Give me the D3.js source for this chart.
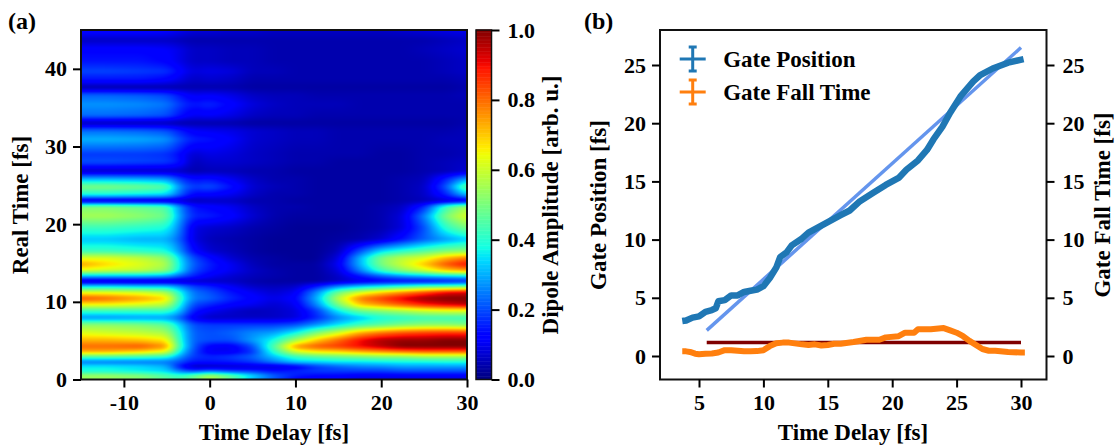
<!DOCTYPE html>
<meta charset="utf-8">
<title>Gate position and fall time</title>
<style>
    body { margin: 0; background: #fff; }
    svg { display: block; font-family: "Liberation Serif", serif; font-weight: bold; }
    svg text { fill: #000; }
</style>
<script src="https://cdn.jsdelivr.net/npm/d3@7"></script>
<svg width="1116" height="446"></svg>
<script>
    // heatmap samples
    var delays = [-15, -12, -8, -5, -3.5, -2, 0, 2.5, 5, 7.5, 10, 12.5, 15, 17.5, 20, 22.5, 25, 27.5, 30];
    var realTimes = [0, 0.4, 1, 1.6, 2.2, 2.9, 3.5, 4.2, 5, 6, 7, 7.9, 8.8, 9.6, 10.4, 11.2, 12, 12.6, 13.2, 14, 14.8, 15.6, 16.5, 18, 19.5, 21, 22.2, 23, 23.8, 24.8, 25.8, 26.8, 28, 29, 30.9, 32, 33, 34, 35.4, 36.6, 37.6, 38.6, 39.7, 41, 42.5, 43.7, 45];
    var amplitude = [
        [.52,.52,.50,.45,.42,.45,.55,.45,.30,.20,.12,.10,.10,.08,.08,.08,.08,.08,.08],
        [.55,.55,.52,.45,.42,.48,.58,.48,.35,.22,.15,.12,.12,.10,.10,.10,.10,.10,.10],
        [.38,.38,.36,.34,.25,.20,.25,.20,.18,.14,.16,.18,.18,.18,.18,.20,.20,.20,.20],
        [.36,.36,.34,.30,.14,.05,.05,.06,.07,.07,.10,.18,.22,.25,.26,.28,.28,.28,.28],
        [.24,.24,.24,.24,.20,.14,.14,.15,.18,.25,.32,.33,.35,.35,.36,.37,.37,.38,.38],
        [.45,.45,.43,.40,.28,.18,.16,.18,.22,.32,.42,.46,.48,.50,.52,.52,.55,.55,.55],
        [.72,.72,.68,.62,.36,.20,.10,.10,.17,.40,.60,.66,.68,.72,.75,.78,.80,.80,.80],
        [.80,.80,.82,.75,.42,.22,.11,.10,.20,.45,.75,.82,.85,.90,.95,1.0,1.0,1.0,1.0],
        [.72,.72,.70,.66,.40,.22,.20,.20,.28,.38,.55,.70,.80,.90,.96,.98,.98,1.0,1.0],
        [.62,.60,.58,.55,.38,.22,.20,.22,.26,.28,.36,.50,.60,.72,.78,.82,.84,.85,.85],
        [.52,.52,.50,.46,.33,.20,.18,.18,.18,.18,.20,.27,.35,.42,.46,.50,.52,.52,.50],
        [.27,.27,.28,.28,.22,.10,.06,.06,.06,.06,.08,.16,.26,.32,.38,.40,.42,.42,.42],
        [.42,.42,.42,.42,.32,.15,.10,.07,.05,.06,.08,.18,.36,.48,.52,.56,.60,.62,.62],
        [.65,.65,.62,.58,.38,.20,.16,.12,.10,.07,.10,.26,.50,.70,.76,.82,.88,.92,.95],
        [.83,.80,.74,.68,.42,.25,.22,.16,.12,.09,.12,.30,.58,.78,.85,.92,.98,1.0,1.0],
        [.62,.62,.60,.55,.38,.24,.20,.14,.10,.07,.10,.26,.48,.60,.68,.75,.82,.90,.92],
        [.32,.32,.30,.30,.25,.18,.15,.10,.06,.05,.06,.14,.24,.30,.34,.38,.42,.42,.45],
        [.06,.06,.06,.06,.06,.06,.06,.06,.04,.03,.03,.03,.06,.09,.11,.12,.12,.14,.15],
        [.28,.28,.28,.26,.20,.15,.10,.07,.05,.04,.03,.03,.06,.13,.20,.25,.28,.30,.32],
        [.62,.60,.58,.52,.35,.20,.14,.10,.06,.04,.03,.03,.08,.25,.42,.52,.60,.70,.74],
        [.74,.68,.62,.56,.36,.22,.15,.10,.05,.03,.03,.03,.10,.30,.50,.60,.70,.82,.90],
        [.62,.62,.58,.52,.34,.20,.13,.07,.04,.03,.02,.02,.08,.30,.50,.58,.62,.72,.78],
        [.42,.42,.40,.38,.27,.13,.07,.05,.03,.02,.02,.02,.05,.20,.34,.40,.45,.50,.52],
        [.32,.32,.30,.30,.22,.09,.05,.04,.03,.02,.02,.02,.03,.04,.07,.14,.22,.28,.33],
        [.42,.42,.40,.38,.25,.09,.07,.06,.04,.03,.02,.02,.02,.03,.04,.08,.20,.40,.50],
        [.55,.55,.52,.48,.28,.16,.15,.12,.07,.04,.03,.03,.03,.03,.04,.08,.25,.50,.62],
        [.50,.50,.47,.44,.26,.14,.12,.10,.06,.04,.04,.03,.03,.03,.04,.06,.16,.42,.55],
        [.07,.07,.07,.07,.07,.05,.06,.06,.04,.04,.03,.03,.03,.03,.03,.04,.05,.07,.09],
        [.38,.38,.36,.34,.22,.12,.12,.10,.06,.04,.04,.03,.03,.03,.03,.04,.06,.15,.32],
        [.50,.50,.48,.45,.26,.18,.20,.14,.07,.05,.04,.03,.03,.03,.03,.04,.06,.20,.48],
        [.30,.30,.29,.27,.18,.13,.14,.10,.06,.04,.04,.03,.03,.03,.03,.04,.05,.15,.28],
        [.06,.06,.06,.06,.06,.04,.05,.05,.04,.04,.03,.03,.03,.03,.03,.03,.04,.05,.07],
        [.20,.20,.19,.18,.14,.05,.07,.07,.06,.05,.04,.04,.03,.03,.03,.03,.04,.05,.06],
        [.18,.18,.18,.17,.13,.07,.09,.08,.06,.05,.04,.04,.04,.04,.03,.03,.04,.04,.05],
        [.30,.30,.29,.27,.20,.15,.14,.11,.07,.06,.05,.05,.04,.04,.04,.04,.04,.05,.05],
        [.23,.23,.22,.20,.15,.11,.10,.09,.07,.06,.05,.05,.04,.04,.04,.04,.04,.04,.05],
        [.05,.05,.05,.05,.04,.04,.04,.04,.03,.03,.03,.03,.03,.03,.03,.03,.03,.03,.04],
        [.23,.23,.22,.20,.14,.10,.11,.09,.06,.05,.05,.04,.04,.04,.04,.04,.04,.04,.04],
        [.27,.27,.26,.24,.18,.14,.16,.12,.08,.06,.05,.05,.05,.04,.04,.04,.04,.04,.04],
        [.22,.22,.21,.19,.14,.10,.11,.09,.06,.05,.05,.04,.04,.04,.04,.04,.04,.04,.05],
        [.04,.04,.04,.04,.04,.04,.04,.04,.03,.03,.03,.03,.03,.03,.03,.03,.03,.03,.04],
        [.14,.14,.14,.12,.09,.06,.07,.06,.04,.04,.04,.04,.04,.04,.04,.04,.04,.04,.05],
        [.19,.19,.18,.17,.12,.08,.09,.08,.05,.05,.04,.04,.04,.04,.04,.04,.04,.05,.06],
        [.14,.14,.14,.12,.09,.06,.06,.05,.05,.04,.04,.04,.04,.04,.04,.04,.04,.05,.06],
        [.12,.12,.12,.11,.09,.06,.06,.05,.05,.04,.04,.04,.04,.04,.04,.04,.05,.06,.07],
        [.06,.06,.06,.06,.05,.04,.04,.04,.04,.04,.04,.04,.04,.04,.04,.04,.04,.05,.06],
        [.13,.13,.13,.12,.10,.08,.08,.07,.07,.06,.06,.06,.06,.06,.06,.07,.08,.09,.10]
    ];

    // jet colormap stops
    var jetStops = [0, .11, .125, .34, .35, .375, .64, .66, .89, .91, 1];
    var jetColors = ["#000080", "#0000ff", "#0000ff", "#00dbff", "#00e5f7", "#14ffe3", "#eeff07", "#ffed00", "#ff1200", "#e80000", "#800000"];

    // panel (b) curves
    var gateDelay = [3.7, 4, 4.5, 5, 5.5, 6, 6.3, 6.5, 7, 7.5, 8, 8.5, 9, 9.5, 10, 10.5, 11, 11.3, 11.8, 12.2, 13, 13.5, 14, 15, 16, 16.7, 17.5, 18.5, 19.5, 20.5, 21.1, 22, 22.7, 23.2, 23.9, 24.5, 25.3, 26.3, 26.8, 27.8, 29, 30.2];
    var gatePosition = [3.0, 3.05, 3.3, 3.4, 3.8, 3.95, 4.1, 4.7, 4.8, 5.2, 5.2, 5.5, 5.6, 5.7, 6.0, 6.7, 7.6, 8.5, 8.9, 9.5, 10.1, 10.6, 10.9, 11.5, 12.1, 12.5, 13.3, 14.0, 14.7, 15.3, 16.0, 16.8, 17.7, 18.6, 19.7, 20.9, 22.3, 23.6, 24.1, 24.7, 25.2, 25.5];
    var fallDelay = [3.7, 4, 4.3, 4.7, 5, 5.5, 6, 6.5, 7, 7.5, 8, 8.5, 9, 9.5, 10, 10.5, 11, 11.5, 12, 13, 13.5, 14, 14.5, 15, 15.5, 16, 17, 18, 19, 19.5, 20.5, 21, 21.7, 22, 23, 24, 24.5, 25, 25.5, 26, 27, 27.5, 28, 29, 30, 30.3];
    var fallTime = [.4, .4, .35, .2, .15, .2, .22, .3, .5, .5, .45, .4, .4, .42, .5, .85, 1.1, 1.15, 1.15, 1.0, .95, 1.0, .9, .95, 1.05, 1.05, 1.2, 1.4, 1.4, 1.6, 1.7, 2.0, 2.0, 2.3, 2.3, 2.4, 2.2, 2.0, 1.7, 1.3, .6, .45, .45, .35, .3, .3];
    var fitDelay = [5.6, 30];
    var fitPosition = [2.2, 26.5];
    var fitFall = [1.15, 1.15];

    var legendNames = ["Gate Position", "Gate Fall Time"];
    var legendColors = ["#1f77b4", "#ff7f0e"];

    var svg = d3.select("svg");
    var top_ = 30, bottom_ = 379.5;

    var jet = d3.scaleLinear().domain(jetStops).range(jetColors).clamp(true);

    function styleAxis(g) {
        g.selectAll("path").attr("stroke", "none");
        g.selectAll("line").attr("stroke", "#000").attr("stroke-width", 2);
        g.selectAll("text").attr("font-size", 22).attr("font-family", "Liberation Serif").attr("font-weight", "bold").attr("fill", "#000");
    }

    function frame(x0, x1) {
        svg.append("rect")
            .attr("x", x0).attr("y", top_)
            .attr("width", x1 - x0).attr("height", bottom_ - top_)
            .attr("fill", "none").attr("stroke", "#111").attr("stroke-width", 2);
    }

    function label(text, x, y, rotate, anchor, size) {
        svg.append("text")
            .attr("transform", "translate(" + x + "," + y + ")" + (rotate ? " rotate(-90)" : ""))
            .attr("text-anchor", anchor || "middle")
            .attr("font-size", size || 23)
            .text(text);
    }

    // panel (a)
    var xA = d3.scaleLinear().domain([-15, 30]).range([81, 467]);
    var yA = d3.scaleLinear().domain([0, 45]).range([bottom_, top_]);

    var colIndex = d3.scaleLinear().domain(delays).range(d3.range(delays.length)).clamp(true);
    var rowIndex = d3.scaleLinear().domain(realTimes).range(d3.range(realTimes.length)).clamp(true);

    function shade(t, d) {
        var fr = rowIndex(t), fc = colIndex(d);
        var r = Math.min(Math.floor(fr), realTimes.length - 2), c = Math.min(Math.floor(fc), delays.length - 2);
        var a = fr - r, b = fc - c;
        return (1 - a) * ((1 - b) * amplitude[r][c] + b * amplitude[r][c + 1]) +
            a * ((1 - b) * amplitude[r + 1][c] + b * amplitude[r + 1][c + 1]);
    }

    // small averaging window so the samples read like a smoothed image
    var offX = [-6, -3, 0, 3, 6], offY = [-1.5, 0, 1.5];
    var w = 386, h = 350;
    var canvas = document.createElement("canvas");
    canvas.width = w;
    canvas.height = h;
    var ctx = canvas.getContext("2d");
    for (var py = 0; py < h; py++) {
        for (var px = 0; px < w; px++) {
            var sum = 0;
            for (var i = 0; i < offX.length; i++) {
                for (var j = 0; j < offY.length; j++) {
                    sum += shade(yA.invert(top_ + py + .5 + offY[j]), xA.invert(81 + px + .5 + offX[i]));
                }
            }
            ctx.fillStyle = jet(sum / (offX.length * offY.length));
            ctx.fillRect(px, py, 1, 1);
        }
    }
    svg.append("image")
        .attr("x", 81).attr("y", top_)
        .attr("width", w).attr("height", bottom_ - top_)
        .attr("preserveAspectRatio", "none")
        .attr("href", canvas.toDataURL());

    frame(81, 467);
    svg.append("g").attr("transform", "translate(0," + bottom_ + ")")
        .call(d3.axisBottom(xA).tickValues([-10, 0, 10, 20, 30]).tickFormat(String).tickSize(8).tickPadding(7))
        .call(styleAxis);
    svg.append("g").attr("transform", "translate(81,0)")
        .call(d3.axisLeft(yA).tickValues([0, 10, 20, 30, 40]).tickSize(8).tickPadding(6))
        .call(styleAxis);

    label("(a)", 8, 29, false, "start", 24);
    label("Real Time [fs]", 28, 205, true);
    label("Time Delay [fs]", 274, 440);

    // colorbar
    var yC = d3.scaleLinear().domain([0, 1]).range([bottom_, top_]);
    svg.append("g").selectAll("rect")
        .data(d3.range(0, 1, 1 / 256))
        .enter().append("rect")
        .attr("x", 476).attr("width", 15.5)
        .attr("y", function (d) { return yC(d + 1 / 256) - .5; })
        .attr("height", function (d) { return yC(d) - yC(d + 1 / 256) + .5; })
        .attr("fill", function (d) { return jet(d); });
    svg.append("rect")
        .attr("x", 476).attr("y", top_).attr("width", 15.5).attr("height", bottom_ - top_)
        .attr("fill", "none").attr("stroke", "#111").attr("stroke-width", 1.5);
    svg.append("g").attr("transform", "translate(491.5,0)")
        .call(d3.axisRight(yC).tickValues([0, .2, .4, .6, .8, 1]).tickFormat(d3.format(".1f")).tickSize(8).tickPadding(8))
        .call(styleAxis);
    label("Dipole Amplitude [arb. u.]", 558, 205, true);

    // panel (b)
    var xB = d3.scaleLinear().domain([5, 30]).range([699, 1021]);
    var yB = d3.scaleLinear().domain([0, 25]).range([356, 65]);

    frame(660, 1046.5);
    svg.append("g").attr("transform", "translate(0," + bottom_ + ")")
        .call(d3.axisBottom(xB).tickValues([5, 10, 15, 20, 25, 30]).tickSize(8).tickPadding(7))
        .call(styleAxis);
    svg.append("g").attr("transform", "translate(660,0)")
        .call(d3.axisLeft(yB).tickValues([0, 5, 10, 15, 20, 25]).tickSize(8).tickPadding(6))
        .call(styleAxis);
    svg.append("g").attr("transform", "translate(1046.5,0)")
        .call(d3.axisRight(yB).tickValues([0, 5, 10, 15, 20, 25]).tickSize(8).tickPadding(8))
        .call(styleAxis);

    var line = d3.line()
        .x(function (d) { return xB(d[0]); })
        .y(function (d) { return yB(d[1]); });

    function curve(xs, ys, color, width) {
        svg.append("path")
            .attr("d", line(d3.zip(xs, ys)))
            .attr("fill", "none")
            .attr("stroke", color)
            .attr("stroke-width", width)
            .attr("stroke-linejoin", "round");
    }

    curve(fitDelay, fitPosition, "#6495ed", 3.5);
    curve(fitDelay, fitFall, "#7f0000", 3.5);
    curve(gateDelay, gatePosition, legendColors[0], 6.5);
    curve(fallDelay, fallTime, legendColors[1], 6);

    // legend with errorbar glyphs
    var legendY = d3.scalePoint().domain(legendNames).range([59, 92]);
    var entry = svg.append("g").selectAll("g")
        .data(legendNames)
        .enter().append("g")
        .attr("transform", function (d) { return "translate(692.7," + legendY(d) + ")"; })
        .attr("stroke", function (d, i) { return legendColors[i]; })
        .attr("stroke-width", 3);
    entry.append("line").attr("x1", -13).attr("x2", 13);
    entry.append("line").attr("y1", -12).attr("y2", 12);
    entry.append("line").attr("x1", -4).attr("x2", 4).attr("y1", -12).attr("y2", -12);
    entry.append("line").attr("x1", -4).attr("x2", 4).attr("y1", 12).attr("y2", 12);
    entry.append("text")
        .attr("x", 30.5).attr("y", 8)
        .attr("stroke", "none")
        .attr("font-size", 23)
        .text(function (d) { return d; });

    label("(b)", 584, 29, false, "start", 24);
    label("Gate Position [fs]", 606, 205, true);
    label("Gate Fall Time [fs]", 1110, 205, true);
    label("Time Delay [fs]", 853, 440);
</script>
